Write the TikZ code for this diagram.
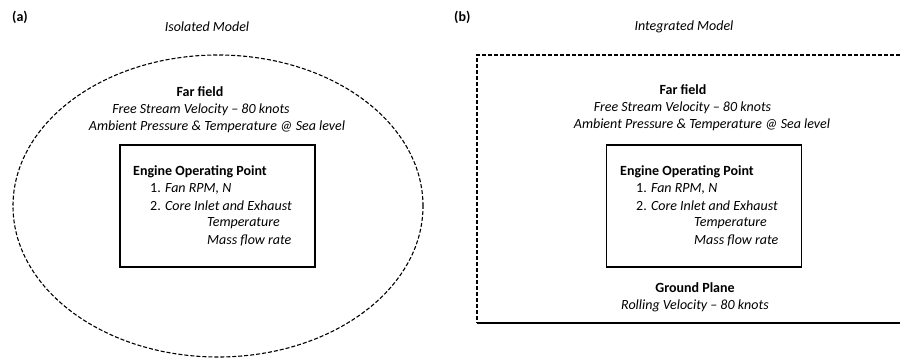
\documentclass[tikz,border=0pt]{standalone}
\usepackage{fontspec}
\setmainfont{Carlito}
\usetikzlibrary{positioning,shapes.geometric}

\tikzset{
  txt/.style={inner sep=0pt, font=\fontsize{14}{16}\selectfont\itshape},
  hd/.style={inner sep=0pt, font=\fontsize{14}{16}\selectfont\bfseries},
  enginebox/.style={draw, line width=1.6pt, minimum width=195pt, minimum height=122pt, inner sep=0pt},
  fieldline/.style={line width=1.1pt, dash pattern=on 4pt off 2pt},
  groundline/.style={solid, line width=1.6pt}
}

\begin{document}
\begin{tikzpicture}[x=1pt,y=-1pt]
\useasboundingbox (0,0) rectangle (900,358);
% (a) isolated model
\node[hd, anchor=west] (laba) at (12,17) {(a)};
\node[txt] (titlea) at (207,27) {Isolated Model};
\node[draw, ellipse, fieldline, minimum width=410pt, minimum height=302pt, inner sep=0pt] (fielda) at (218,206) {};
\node[hd] (fara) at (200,92) {Far field};
\node[txt] (speeda) at (201,110) {Free Stream Velocity -- 80 knots};
\node[txt] (ambienta) at (217,127) {Ambient Pressure \& Temperature @ Sea level};
\node[enginebox] (enginea) at (217.5,206) {};
\node[hd, anchor=west] (opa) at (133,172) {Engine Operating Point};
\node[txt, anchor=west] (fana) at (150,189) {\upshape 1. \itshape Fan RPM, N};
\node[txt, anchor=west] (corea) at (150,206) {\upshape 2. \itshape Core Inlet and Exhaust};
\node[txt, anchor=west] (tempa) at (207,223) {Temperature};
\node[txt, anchor=west] (massa) at (207,241) {Mass flow rate};

% (b) integrated model
\node[hd, anchor=west] (labb) at (454,17) {(b)};
\node[txt] (titleb) at (684,27) {Integrated Model};
\coordinate (tlb) at (477,55);
\coordinate (trb) at (900,55);
\coordinate (blb) at (477,323);
\coordinate (brb) at (900,323);
\draw[groundline] (blb) -- (brb);
\draw[fieldline] (trb) -- (tlb) -- (blb);
\node[hd] (farb) at (683,90) {Far field};
\node[txt] (speedb) at (682.5,108) {Free Stream Velocity -- 80 knots};
\node[txt] (ambientb) at (702,125) {Ambient Pressure \& Temperature @ Sea level};
\node[enginebox] (engineb) at (704,206) {};
\node[hd, anchor=west] (opb) at (620,172) {Engine Operating Point};
\node[txt, anchor=west] (fanb) at (636,189) {\upshape 1. \itshape Fan RPM, N};
\node[txt, anchor=west] (coreb) at (636,206) {\upshape 2. \itshape Core Inlet and Exhaust};
\node[txt, anchor=west] (tempb) at (694,223) {Temperature};
\node[txt, anchor=west] (massb) at (694,241) {Mass flow rate};
\node[hd] (groundb) at (695,288) {Ground Plane};
\node[txt] (rollb) at (695,306) {Rolling Velocity -- 80 knots};
\end{tikzpicture}
\end{document}
